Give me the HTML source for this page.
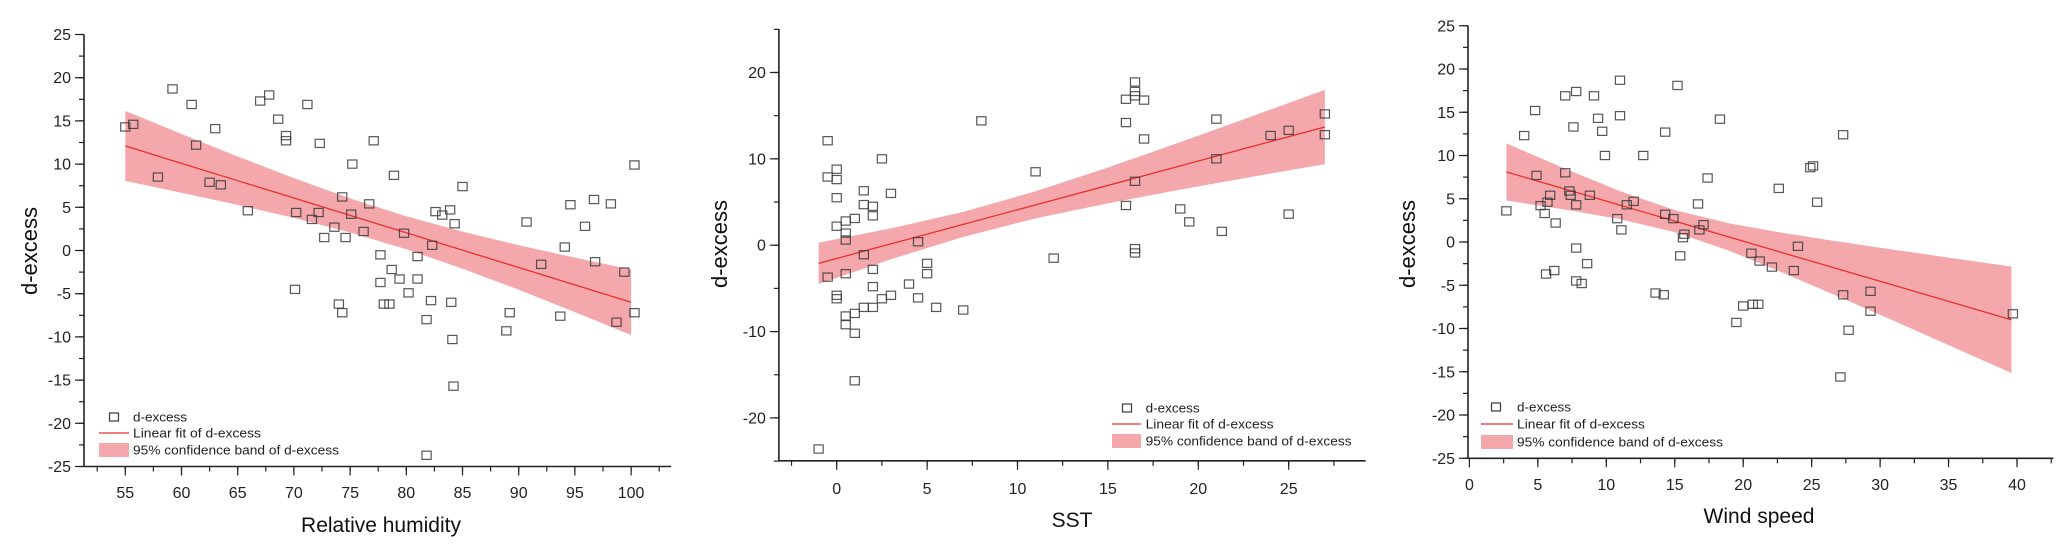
<!DOCTYPE html>
<html><head><meta charset="utf-8"><style>
html,body{margin:0;padding:0;background:#fff;}
svg{display:block;font-family:"Liberation Sans",Arial,sans-serif;}
</style></head><body>
<svg id="fig" width="2067" height="548" viewBox="0 0 2067 548" xmlns="http://www.w3.org/2000/svg"></svg>
<script>
// ---------- Chart 1: Relative humidity ----------
const rhX = [55,55.7,59.2,60.9,63.0,61.3,57.9,62.5,63.5,65.9,67.0,67.8,68.6,69.3,69.3,71.2,72.3,70.2,72.2,71.6,72.7,73.6,74.3,74.6,75.1,75.2,76.7,77.1,76.2,70.1,74.0,74.3,77.7,77.7,78.7,79.4,78.0,78.5,78.9,79.8,80.2,81.0,81.0,81.8,82.2,82.3,82.6,83.2,83.9,84.3,85.0,84.0,84.1,84.2,81.8,88.9,89.2,90.7,92.0,93.7,94.1,94.6,95.9,96.7,96.8,98.2,98.7,99.4,100.3,100.3];
const rhY = [14.3,14.6,18.7,16.9,14.1,12.2,8.5,7.9,7.6,4.6,17.3,18.0,15.2,13.3,12.7,16.9,12.4,4.4,4.4,3.6,1.5,2.7,6.2,1.5,4.2,10.0,5.4,12.7,2.2,-4.5,-6.2,-7.2,-0.5,-3.7,-2.2,-3.3,-6.2,-6.2,8.7,2.0,-4.9,-0.7,-3.3,-8.0,-5.8,0.6,4.5,4.1,4.7,3.1,7.4,-6.0,-10.3,-15.7,-23.7,-9.3,-7.2,3.3,-1.6,-7.6,0.4,5.3,2.8,5.9,-1.3,5.4,-8.3,-2.5,9.9,-7.2];
const rhBandX = [55,60,65,70,75,80,85,90,95,100];
const rhFit = [12.1,10.09,8.08,6.07,4.06,2.05,0.04,-1.97,-3.98,-5.99];
const rhUpper = [16.15,13.49,10.88,8.37,6.03,3.96,2.18,0.61,-0.83,-2.2];
const rhLower = [8.05,6.69,5.28,3.77,2.09,0.14,-2.10,-4.55,-7.13,-9.78];
const rhXTicks = [55,60,65,70,75,80,85,90,95,100];
const rhYTicks = [25,20,15,10,5,0,-5,-10,-15,-20,-25];

// ---------- Chart 2: SST ----------
const sstX = [-1,-0.5,-0.5,-0.5,0,0,0,0,0,0,0.5,0.5,0.5,0.5,0.5,0.5,1,1,1,1,1.5,1.5,1.5,1.5,2,2,2,2,2,2.5,2.5,3,3,4,4.5,4.5,5,5,5.5,7,8,11,12,16,16,16,16.5,16.5,16.5,16.5,16.5,16.5,17,17,19,19.5,21,21,21.3,24,25,25,27,27];
const sstY = [-23.6,-3.7,12.1,7.9,8.8,7.6,5.5,2.2,-5.8,-6.2,2.8,1.4,0.6,-3.3,-8.2,-9.2,3.1,-7.9,-10.2,-15.7,6.3,4.7,-1.1,-7.2,4.5,3.4,-2.8,-4.8,-7.2,10.0,-6.2,6.0,-5.8,-4.5,0.4,-6.1,-2.1,-3.3,-7.2,-7.5,14.4,8.5,-1.5,16.9,14.2,4.6,18.9,17.8,17.3,7.4,-0.4,-0.9,16.8,12.3,4.2,2.7,14.6,10.0,1.6,12.7,13.3,3.6,15.2,12.8];
const sstBandX = [-1,3,7,11,15,19,23,27];
const sstFit = [-2.1,0.16,2.41,4.67,6.92,9.18,11.44,13.69];
const sstUpper = [0.3,1.95,3.86,6.24,8.99,11.93,14.95,17.99];
const sstLower = [-4.5,-1.63,0.96,3.10,4.85,6.43,7.93,9.39];
const sstXTicks = [0,5,10,15,20,25];
const sstYTicks = [20,10,0,-10,-20];

// ---------- Chart 3: Wind speed ----------
const wsX = [2.7,4.0,4.8,4.9,5.2,5.5,5.6,5.7,5.9,6.2,6.3,7.0,7.0,7.3,7.4,7.6,7.8,7.8,7.8,7.8,8.2,8.6,8.8,9.1,9.4,9.7,9.9,10.8,11.0,11.0,11.1,11.5,12.0,12.7,13.6,14.2,14.3,14.3,14.9,15.2,15.4,15.6,15.7,16.7,16.8,17.1,17.4,18.3,19.5,20.0,20.7,21.1,20.6,21.2,22.1,22.6,23.7,24.0,24.9,25.1,25.4,27.1,27.3,27.3,27.7,29.3,29.3,39.7];
const wsY = [3.6,12.3,15.2,7.7,4.2,3.3,-3.7,4.6,5.4,-3.3,2.2,16.9,8.0,5.9,5.4,13.3,4.3,-0.7,-4.5,17.4,-4.8,-2.5,5.4,16.9,14.3,12.8,10.0,2.7,14.6,18.7,1.4,4.3,4.7,10.0,-5.9,-6.1,12.7,3.2,2.7,18.1,-1.6,0.5,0.9,4.4,1.4,2.0,7.4,14.2,-9.3,-7.4,-7.2,-7.2,-1.3,-2.2,-2.9,6.2,-3.3,-0.5,8.6,8.8,4.6,-15.6,12.4,-6.1,-10.2,-5.7,-8.0,-8.3];
const wsBandX = [2.7,7,11,15,19,23,27,31,35,39.6];
const wsFit = [8.1,6.11,4.26,2.41,0.56,-1.30,-3.15,-5.00,-6.86,-9.0];
const wsUpper = [11.4,8.47,5.88,3.68,2.15,1.02,0.04,-0.89,-1.80,-2.85];
const wsLower = [4.8,3.75,2.64,1.14,-1.03,-3.62,-6.34,-9.11,-11.92,-15.15];
const wsXTicks = [0,5,10,15,20,25,30,35,40];
const wsYTicks = [25,20,15,10,5,0,-5,-10,-15,-20,-25];

const NS = "http://www.w3.org/2000/svg";
const svg = document.getElementById('fig');
function mk(tag, attrs, parent){
  const e = document.createElementNS(NS, tag);
  for (const k in attrs) e.setAttribute(k, attrs[k]);
  (parent||svg).appendChild(e);
  return e;
}

function drawChart(c, xs, ys, bx, fit, up, lo, xt, yt){
  const g = mk('g', {});
  
  
  const X = v => c.x0px + (v - c.x0) * c.xs;
  const Y = v => c.y0px - (v - c.y0) * c.ys;
  // band
  let pts = [];
  for (let i=0;i<bx.length;i++) pts.push(X(bx[i])+','+Y(up[i]));
  for (let i=bx.length-1;i>=0;i--) pts.push(X(bx[i])+','+Y(lo[i]));
  const band = mk('polygon', {points: pts.join(' '), fill:'#f5a8ab', stroke:'none'}, g);
  
  
  // fit line
  const lp = bx.map((v,i)=>X(v)+','+Y(fit[i])).join(' ');
  const fl = mk('polyline', {points: lp, fill:'none', stroke:'#e8312f', 'stroke-width':1.3}, g);
  
  
  // points
  for (let i=0;i<xs.length;i++){
    const r = mk('rect', {x: X(xs[i])-4.6, y: Y(ys[i])-4.1, width:9.2, height:8.2, fill:'none', stroke:'#3a3a3a', 'stroke-width':1.2, opacity:0.85}, g);
    
    
  }
  // axes
  const yax = mk('line', {x1:c.axX, y1:c.axTop, x2:c.axX, y2:c.axY, stroke:'#222', 'stroke-width':1.6}, g);
  
  
  const xax = mk('line', {x1:c.axX, y1:c.axY, x2:c.axRight, y2:c.axY, stroke:'#222', 'stroke-width':1.6}, g);
  
  
  // x minor ticks
  for (let v=c.xMinorStart; v<=c.xMinorEnd+1e-6; v+=c.xMinor){
    mk('line', {x1:X(v), y1:c.axY, x2:X(v), y2:c.axY+5, stroke:'#222', 'stroke-width':1.2}, g);
  }
  for (const v of xt){
    mk('line', {x1:X(v), y1:c.axY, x2:X(v), y2:c.axY+9, stroke:'#222', 'stroke-width':1.2}, g);
    const t = mk('text', {x:X(v), y:c.xLabY, 'font-size':16, 'text-anchor':'middle', fill:'#222'}, g);
    t.textContent = v;
    
    
  }
  // y minor ticks
  for (let v=c.yMinorStart; v<=c.yMinorEnd+1e-6; v+=c.yMinor){
    mk('line', {x1:c.axX-5, y1:Y(v), x2:c.axX, y2:Y(v), stroke:'#222', 'stroke-width':1.2}, g);
  }
  for (const v of yt){
    mk('line', {x1:c.axX-9, y1:Y(v), x2:c.axX, y2:Y(v), stroke:'#222', 'stroke-width':1.2}, g);
    const t = mk('text', {x:c.axX-13, y:Y(v)+5.5, 'font-size':16, 'text-anchor':'end', fill:'#222'}, g);
    t.textContent = v;
    
    
  }
  // titles
  const xtit = mk('text', {x:c.xTitX, y:c.xTitY, 'font-size':21, 'text-anchor':'middle', fill:'#111'}, g);
  xtit.textContent = c.xTitle;
  
  
  const ytit = mk('text', {x:0, y:0, 'font-size':22, 'text-anchor':'middle', fill:'#111', transform:'translate('+(c.yTitX)+','+c.yTitY+') rotate(-90)'}, g);
  ytit.textContent = 'd-excess';
  
  
  // legend
  const L = c.leg;
  const lg = mk('g', {}, g);
  
  
  const ls = mk('rect', {x:L.sqX-4.5, y:L.r1-4, width:9, height:8, fill:'none', stroke:'#3a3a3a', 'stroke-width':1.2}, lg);
  
  
  const ll = mk('line', {x1:L.sw1, y1:L.r2, x2:L.sw2, y2:L.r2, stroke:'#e8312f', 'stroke-width':1.3}, lg);
  
  
  const lb = mk('rect', {x:L.sw1, y:L.r3-7, width:L.sw2-L.sw1, height:14, fill:'#f5a8ab'}, lg);
  
  
  const texts = [['d-excess',L.r1,54],['Linear fit of d-excess',L.r2,128],['95%  confidence band of d-excess',L.r3,206]];
  for (const [s,yy,w] of texts){
    const t = mk('text', {x:L.tx, y:yy+4.5, 'font-size':13, fill:'#222', textLength:w, lengthAdjust:'spacingAndGlyphs'}, lg);
    t.textContent = s;
    
    
  }
}

drawChart({name:'humidity', x0:55, x0px:125.3, xs:11.24, y0:0, y0px:250.5, ys:8.64,
  axX:84, axY:466.5, axTop:34.5, axRight:671,
  xMinorStart:52.5, xMinorEnd:102.5, xMinor:2.5, yMinorStart:-25, yMinorEnd:25, yMinor:2.5,
  xLabY:498, xTitle:'Relative humidity', xTitX:381, xTitY:532, yTitX:37, yTitY:251,
  leg:{sqX:114, sw1:99, sw2:129, tx:133, r1:417, r2:433, r3:450}},
  rhX, rhY, rhBandX, rhFit, rhUpper, rhLower, rhXTicks, rhYTicks);

drawChart({name:'sst', x0:0, x0px:836.7, xs:18.08, y0:0, y0px:245.2, ys:8.636,
  axX:778.9, axY:460.8, axTop:29, axRight:1365.6,
  xMinorStart:-2.5, xMinorEnd:27.5, xMinor:2.5, yMinorStart:-25, yMinorEnd:25, yMinor:5,
  xLabY:494, xTitle:'SST', xTitX:1072, xTitY:527, yTitX:727, yTitY:244,
  leg:{sqX:1127, sw1:1112, sw2:1141, tx:1145.6, r1:408, r2:424, r3:441}},
  sstX, sstY, sstBandX, sstFit, sstUpper, sstLower, sstXTicks, sstYTicks);

drawChart({name:'wind', x0:0, x0px:1469.4, xs:13.69, y0:0, y0px:242, ys:8.65,
  axX:1468, axY:458.3, axTop:25.8, axRight:2053.4,
  xMinorStart:2.5, xMinorEnd:42.5, xMinor:2.5, yMinorStart:-25, yMinorEnd:25, yMinor:2.5,
  xLabY:490, xTitle:'Wind speed', xTitX:1759, xTitY:523, yTitX:1415, yTitY:244,
  leg:{sqX:1496, sw1:1481, sw2:1513, tx:1517, r1:407, r2:424, r3:442}},
  wsX, wsY, wsBandX, wsFit, wsUpper, wsLower, wsXTicks, wsYTicks);
</script>
</body></html>
